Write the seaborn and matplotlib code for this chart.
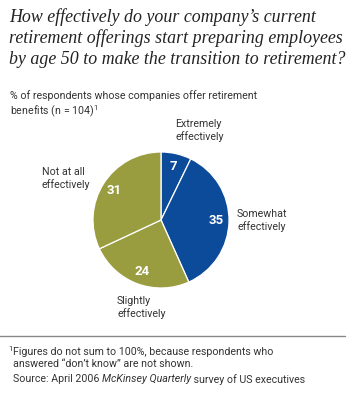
import matplotlib
matplotlib.use("Agg")
import matplotlib.pyplot as plt
import seaborn as sns

# Data
categories = ['Extremely\neffectively', 'Somewhat\neffectively',
              'Slightly\neffectively', 'Not at all\neffectively']
values = [7, 35, 24, 31]
colors = ['#0c4a9a', '#0c4a9a', '#9a9d3f', '#9a9d3f']

sns.set_theme(style='white')
plt.rcParams['font.family'] = ['Roboto', 'DejaVu Sans']
plt.rcParams['mathtext.fontset'] = 'custom'
plt.rcParams['mathtext.rm'] = 'Roboto'

W, H = 354, 409
fig = plt.figure(figsize=(W / 100, H / 100), dpi=100)
fig.patch.set_facecolor('white')
TXT = '#333333'
FS = 7.7


def px(x, y):
    return x / W, 1 - y / H


# Title
title = ("How effectively do your company\u2019s current\n"
         "retirement offerings start preparing employees\n"
         "by age 50 to make the transition to retirement?")
fig.text(*px(9, 8), title, family='Liberation Serif', style='italic',
         fontsize=12.9, color='#222222', va='top', ha='left', linespacing=1.27)

fig.text(*px(10, 90), "% of respondents whose companies offer retirement\n"
         "benefits (n = 104)$^{1}$", fontsize=FS, color=TXT,
         va='top', ha='left', linespacing=1.2)

# Pie
cx, cy, r = 161, 220, 68
ax = fig.add_axes([(cx - r) / W, 1 - (cy + r) / H, 2 * r / W, 2 * r / H])
total = sum(values)
wedges, _, autotexts = ax.pie(
    values, colors=colors, startangle=90, counterclock=False,
    autopct=lambda p: f'{p * total / 100:.0f}', pctdistance=0.81,
    wedgeprops=dict(edgecolor='white', linewidth=0.9),
    textprops=dict(color='white', fontsize=9.5, fontweight='bold'))
ax.set_xlim(-1, 1)
ax.set_ylim(-1, 1)
ax.set_aspect('equal')
ax.axis('off')

# Category labels
label_pos = [(175, 119), (237, 209), (117, 296), (42, 167)]
for text, (x, y) in zip(categories, label_pos):
    fig.text(*px(x, y), text, fontsize=FS, color=TXT,
             va='top', ha='left', linespacing=1.2)

# Footnote rule
fig.add_artist(plt.Line2D([0, 345 / W], [1 - 336 / H] * 2,
                          color='#888888', lw=1.0))

fig.text(*px(8, 346), "1", fontsize=5.5, color=TXT, va='top')
fig.text(*px(13, 347), "Figures do not sum to 100%, because respondents who\n"
         "answered \u201cdon\u2019t know\u201d are not shown.",
         fontsize=FS, color=TXT, va='top', ha='left', linespacing=1.3)
y_src = 1 - 374 / H
t1 = fig.text(13 / W, y_src, "Source: April 2006 ", fontsize=FS, color=TXT,
              va='top', ha='left')
fig.canvas.draw()
x1 = t1.get_window_extent().x1 / W
t2 = fig.text(x1, y_src, "McKinsey Quarterly", fontsize=FS,
              style='italic', color=TXT, va='top', ha='left')
fig.canvas.draw()
x2 = t2.get_window_extent().x1 / W
fig.text(x2, y_src, " survey of US executives", fontsize=FS,
         color=TXT, va='top', ha='left')

fig.savefig('out.png', dpi=100, facecolor='white')
